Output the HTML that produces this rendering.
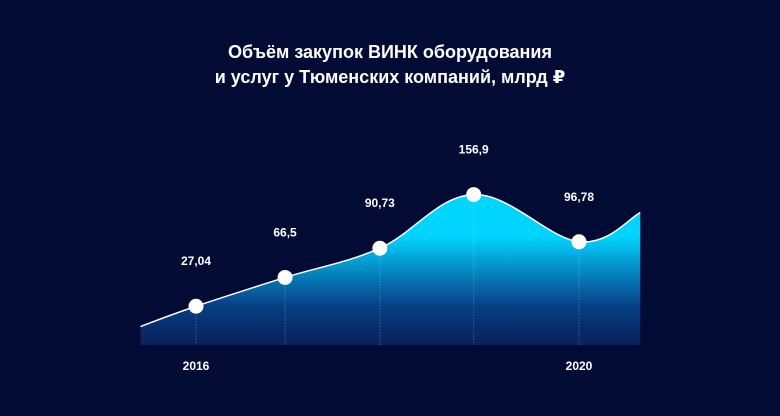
<!DOCTYPE html>
<html><head><meta charset="utf-8"><style>
html,body{margin:0;padding:0;background:#010b34;}
svg{display:block;font-family:"Liberation Sans","DejaVu Sans",sans-serif;}
</style></head><body>
<svg id="chart" width="780" height="416" viewBox="0 0 780 416">
<defs>
<linearGradient id="g2" gradientUnits="userSpaceOnUse" x1="0" y1="190" x2="0" y2="345">
<stop offset="0" stop-color="#00d6ff"/>
<stop offset="0.3" stop-color="#00d4ff"/>
<stop offset="0.5" stop-color="#0590c8"/>
<stop offset="0.75" stop-color="#063f86"/>
<stop offset="1" stop-color="#0a1f58"/>
</linearGradient>
</defs>
<rect width="780" height="416" fill="#010b34"/>
<text x="390" y="58" text-anchor="middle" fill="#fff" font-size="18" font-weight="bold">Объём закупок ВИНК оборудования</text>
<text x="390" y="83" text-anchor="middle" fill="#fff" font-size="18" font-weight="bold">и услуг у Тюменских компаний, млрд ₽</text>
<g id="plot"></g>
</svg>
<script>
const years = [2015.42, 2016, 2016.93, 2017.92, 2018.9, 2020, 2020.64];
const values = [3.5, 27.04, 60.5, 94.5, 156.9, 102, 136];
const labels = ["", "27,04", "66,5", "90,73", "156,9", "96,78", ""];
const tickYears = [2016, 2020];
const tickLabels = ["2016", "2020"];

const xScale = y => 196 + (y - 2016) * 95.75;
const yScale = v => 329.5 - v * 0.86;
const baseY = 345;
const ns = "http://www.w3.org/2000/svg";
const plot = document.getElementById("plot");
function mk(tag, attrs){const e=document.createElementNS(ns,tag);for(const k in attrs)e.setAttribute(k,attrs[k]);return e;}

const pts = years.map((yr,i)=>[xScale(yr), yScale(values[i])]);
function curve(p){
  let d = "M"+p[0][0]+","+p[0][1];
  for(let i=0;i<p.length-1;i++){
    const p0=p[i-1]||p[i], p1=p[i], p2=p[i+1], p3=p[i+2]||p2;
    const t=0.18;
    const c1=[p1[0]+(p2[0]-p0[0])*t, p1[1]+(p2[1]-p0[1])*t];
    const c2=[p2[0]-(p3[0]-p1[0])*t, p2[1]-(p3[1]-p1[1])*t];
    d+=" C"+c1+" "+c2+" "+p2;
  }
  return d;
}
const line = curve(pts);
const area = mk("path",{d: line+" L"+pts[pts.length-1][0]+","+baseY+" L"+pts[0][0]+","+baseY+" Z", fill:"url(#g2)"});


plot.appendChild(area);

years.forEach((yr,i)=>{
  if(!labels[i]) return;
  const x=pts[i][0], y=pts[i][1];
  const dl = mk("line",{x1:x,y1:y,x2:x,y2:baseY,stroke:"rgba(255,255,255,0.35)","stroke-width":1,"stroke-dasharray":"1,2"});
  
  
  plot.appendChild(dl);
});

const ln = mk("path",{d:line,fill:"none",stroke:"#fff","stroke-width":1.5});


plot.appendChild(ln);

years.forEach((yr,i)=>{
  if(!labels[i]) return;
  const x=pts[i][0], y=pts[i][1];
  const c = mk("circle",{cx:x,cy:y,r:7.5,fill:"#fff"});
  
  
  plot.appendChild(c);
  const t = mk("text",{x:x,y:y-41,"text-anchor":"middle",fill:"#fff","font-size":12,"font-weight":"bold"});
  t.textContent = labels[i];
  
  
  plot.appendChild(t);
});

tickYears.forEach((yr,i)=>{
  const t = mk("text",{x:xScale(yr),y:370,"text-anchor":"middle",fill:"#fff","font-size":12,"font-weight":"bold"});
  t.textContent = tickLabels[i];
  
  
  plot.appendChild(t);
});
</script>
</body></html>
